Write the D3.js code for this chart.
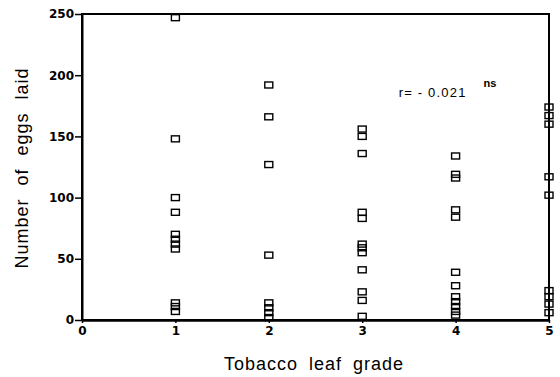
<!DOCTYPE html>
<html>
<head>
<meta charset="utf-8">
<script src="https://cdn.jsdelivr.net/npm/d3@7"></script>
<style>
  html, body { margin: 0; padding: 0; background: #fff; }
  svg { display: block; }
</style>
</head>
<body>
<svg id="chart" width="560" height="377"></svg>
<script>
// eggs laid per tobacco leaf grade
const grade1 = [247, 148, 100, 88, 70, 66, 62, 58, 14, 11, 7];
const grade2 = [192, 166, 127, 53, 14, 10, 6, 2];
const grade3 = [156, 150, 136, 88, 83, 62, 59, 55, 41, 23, 16, 3];
const grade4 = [134, 119, 116, 90, 84, 39, 28, 19, 15, 11, 7, 4];
const grade5 = [174, 167, 160, 117, 102, 24, 19, 13, 6];

const xTicks = [0, 1, 2, 3, 4, 5];
const yTicks = [0, 50, 100, 150, 200, 250];
const rLabel = "r= - 0.021";
const sigLabel = "ns";

const points = [grade1, grade2, grade3, grade4, grade5]
  .flatMap((vals, i) => vals.map(v => ({ grade: i + 1, eggs: v })));

const margin = { left: 82, right: 11, top: 14, bottom: 57 };
const width = 560, height = 377;

const svg = d3.select("#chart");

const x = d3.scaleLinear().domain([0, 5]).range([margin.left, width - margin.right]);
const y = d3.scaleLinear().domain([0, 250]).range([height - margin.bottom, margin.top]);

// frame
svg.append("rect")
  .attr("x", x(0)).attr("y", y(250))
  .attr("width", x(5) - x(0)).attr("height", y(0) - y(250))
  .attr("fill", "none").attr("stroke", "#000").attr("stroke-width", 2);

// y axis
const yAxis = svg.append("g")
  .attr("transform", `translate(${x(0)},0)`)
  .call(d3.axisLeft(y).tickValues(yTicks).tickFormat(d3.format("d"))
    .tickSize(7).tickPadding(1).tickSizeOuter(0));
yAxis.select(".domain").attr("stroke-width", 2);
yAxis.selectAll(".tick line").attr("stroke-width", 1.5);
yAxis.selectAll(".tick text")
  .attr("font-family", "DejaVu Sans, sans-serif")
  .attr("font-weight", "bold")
  .attr("font-size", 12)
  .attr("fill", "#000");

// x axis
const xAxis = svg.append("g")
  .attr("transform", `translate(0,${y(0)})`)
  .call(d3.axisBottom(x).tickValues(xTicks).tickFormat(d3.format("d"))
    .tickSize(3).tickPadding(3).tickSizeOuter(0));
xAxis.select(".domain").attr("stroke-width", 2.5);
xAxis.selectAll(".tick line").attr("stroke-width", 1.5);
xAxis.selectAll(".tick text")
  .attr("font-family", "DejaVu Sans, sans-serif")
  .attr("font-weight", "bold")
  .attr("font-size", 12)
  .attr("fill", "#000");

// points
svg.append("g")
  .selectAll("rect")
  .data(points)
  .join("rect")
  .attr("x", d => x(d.grade) - 4)
  .attr("y", d => y(d.eggs) - 3)
  .attr("width", 8)
  .attr("height", 6)
  .attr("fill", "none")
  .attr("stroke", "#000")
  .attr("stroke-width", 1.4);

// axis titles
svg.append("text")
  .attr("transform", `translate(28,${(y(0) + y(250)) / 2 + 1}) rotate(-90)`)
  .attr("text-anchor", "middle")
  .attr("font-family", "Liberation Sans, Arial, sans-serif")
  .attr("font-size", 18)
  .attr("letter-spacing", 1)
  .attr("word-spacing", 7)
  .attr("fill", "#000")
  .text("Number of eggs laid");

svg.append("text")
  .attr("x", 314)
  .attr("y", 370)
  .attr("text-anchor", "middle")
  .attr("font-family", "Liberation Sans, Arial, sans-serif")
  .attr("font-size", 18)
  .attr("letter-spacing", 1)
  .attr("word-spacing", 5)
  .attr("fill", "#000")
  .text("Tobacco leaf grade");

// correlation note
svg.append("text")
  .attr("x", x(3.39))
  .attr("y", y(182))
  .attr("font-family", "Liberation Sans, Arial, sans-serif")
  .attr("font-size", 13)
  .attr("letter-spacing", 1.2)
  .attr("fill", "#000")
  .text(rLabel);

svg.append("text")
  .attr("x", x(4.3))
  .attr("y", y(190))
  .attr("font-family", "Liberation Sans, Arial, sans-serif")
  .attr("font-weight", "bold")
  .attr("font-size", 11)
  .attr("fill", "#000")
  .text(sigLabel);
</script>
</body>
</html>
